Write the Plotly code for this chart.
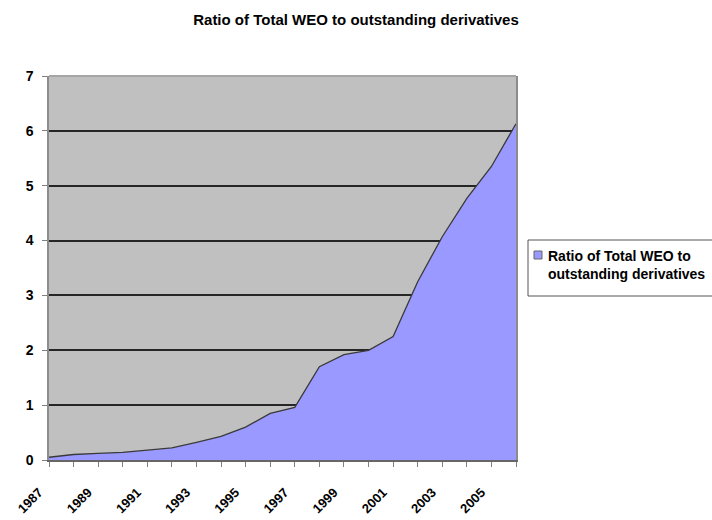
import plotly.graph_objects as go

# Ratio of total WEO to outstanding derivatives, by year
years = list(range(1987, 2007))
ratio = [0.05, 0.10, 0.12, 0.14, 0.18, 0.22, 0.32, 0.43, 0.60, 0.85, 0.96,
         1.70, 1.92, 2.00, 2.25, 3.25, 4.07, 4.77, 5.35, 6.13]
tick_labels = [str(y) if (y - 1987) % 2 == 0 else "" for y in years]
y_ticks = [0, 1, 2, 3, 4, 5, 6, 7]

series_name = "Ratio of Total WEO to outstanding derivatives"
title_text = "Ratio of Total WEO to outstanding derivatives"
legend_text = "Ratio of Total WEO to<br>outstanding derivatives"

FONT = "Liberation Sans, Arial, sans-serif"

W, H = 712, 520
ML, MR, MT, MB = 49, 196, 76, 60
PW, PH = W - ML - MR, H - MT - MB


def px_x(x):
    return (x - ML) / PW


def px_y(y):
    return (H - MB - y) / PH


fig = go.Figure()
fig.add_trace(go.Scatter(
    x=years, y=ratio, name=series_name,
    mode="lines", fill="tozeroy",
    fillcolor="#9999FF",
    line=dict(color="#3a3a3a", width=1.3),
    showlegend=False,
))

shapes = [
    # top border of the plot area
    dict(type="line", xref="paper", yref="paper", x0=0, x1=1, y0=1, y1=1,
         line=dict(color="#a6a6a6", width=2), layer="above"),
    # legend frame
    dict(type="rect", xref="paper", yref="paper",
         x0=px_x(528), x1=px_x(760), y0=px_y(296), y1=px_y(240),
         line=dict(color="#555555", width=1), fillcolor="white", layer="above"),
    # legend swatch
    dict(type="rect", xref="paper", yref="paper",
         x0=px_x(534), x1=px_x(542), y0=px_y(259), y1=px_y(251),
         line=dict(color="#666666", width=1), fillcolor="#9999FF", layer="above"),
]

fig.update_layout(
    width=W, height=H,
    margin=dict(l=ML, r=MR, t=MT, b=MB, autoexpand=False),
    paper_bgcolor="white",
    plot_bgcolor="#C0C0C0",
    font=dict(family=FONT, color="black"),
    title=dict(text="<b>" + title_text + "</b>", x=0.5, xanchor="center",
               xref="container",
               y=1 - 20 / H, yanchor="middle",
               font=dict(size=15, family=FONT, color="black")),
    shapes=shapes,
    annotations=[dict(
        text="<b>" + legend_text + "</b>", xref="paper", yref="paper",
        x=px_x(546), y=px_y(265), xanchor="left", yanchor="middle",
        align="left", showarrow=False,
        font=dict(size=14, family=FONT, color="black"),
    )],
    showlegend=False,
)

fig.update_xaxes(
    range=[1987, 2006],
    tickmode="array", tickvals=years, ticktext=tick_labels,
    tickangle=-45,
    tickfont=dict(size=13, family=FONT, color="black", weight="bold"),
    ticks="outside", ticklen=5, tickcolor="#808080", tickwidth=1,
    ticklabelstandoff=13, ticklabelshift=-10,
    showline=True, linecolor="#666666", linewidth=1.5,
    showgrid=False, zeroline=False,
)
fig.update_yaxes(
    range=[0, 7],
    tickmode="array", tickvals=y_ticks,
    tickfont=dict(size=14, family=FONT, color="black", weight="bold"),
    ticks="outside", ticklen=5, tickcolor="#808080", tickwidth=1,
    ticklabelstandoff=6,
    showline=True, linecolor="#8c8c8c", linewidth=1.5, mirror=True,
    showgrid=True, gridcolor="#262626", gridwidth=1.6,
    zeroline=False,
)

fig.write_html("out.html")
